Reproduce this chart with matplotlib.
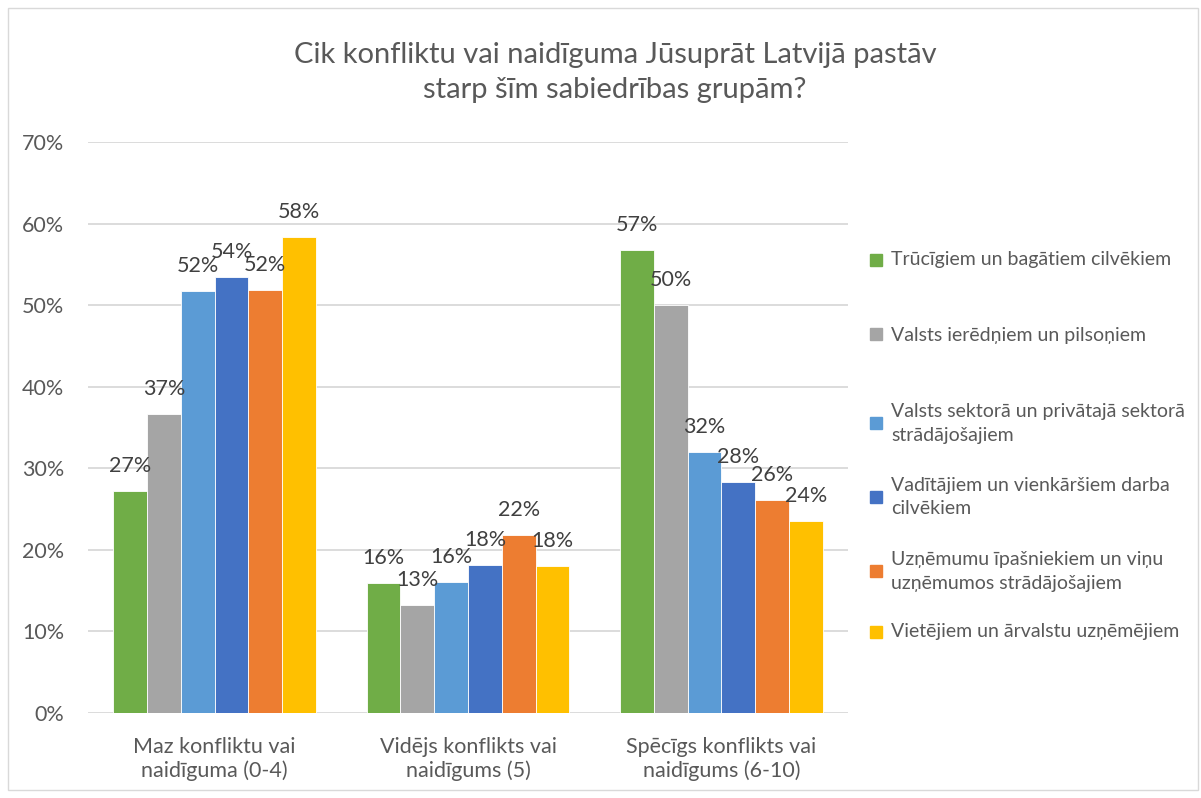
import matplotlib.pyplot as plt
import numpy as np
from matplotlib.patches import Rectangle

plt.rcParams['font.family'] = ['Lato', 'DejaVu Sans']

# ── data ──
CATEGORIES = ['Maz konfliktu vai\nnaidīguma (0-4)',
              'Vidējs konflikts vai\nnaidīgums (5)',
              'Spēcīgs konflikts vai\nnaidīgums (6-10)']
SERIES = ['Trūcīgiem un bagātiem cilvēkiem',
          'Valsts ierēdņiem un pilsoņiem',
          'Valsts sektorā un privātajā sektorā\nstrādājošajiem',
          'Vadītājiem un vienkāršiem darba\ncilvēkiem',
          'Uzņēmumu īpašniekiem un viņu\nuzņēmumos strādājošajiem',
          'Vietējiem un ārvalstu uzņēmējiem']
COLORS = ['#70ad47', '#a5a5a5', '#5b9bd5', '#4472c4', '#ed7d31', '#ffc000']

trucigiem = [27.2, 15.9, 56.8]
ieredniem = [36.7, 13.2, 50.0]
sektora = [51.7, 16.1, 32.0]
vaditajiem = [53.5, 18.1, 28.3]
ipasniekiem = [51.9, 21.8, 26.1]
vietejiem = [58.3, 18.0, 23.5]
VALUES = [trucigiem, ieredniem, sektora, vaditajiem, ipasniekiem, vietejiem]

TXT = '#595959'
fig = plt.figure(figsize=(12.01, 7.98), dpi=100)
ax = fig.add_axes([0.0733, 0.1065, 0.6328, 0.7155])

x = np.arange(len(CATEGORIES))
n = len(SERIES)
group_w = 0.8
bw = group_w / n
for i, (vals, col) in enumerate(zip(VALUES, COLORS)):
    xs = x - group_w / 2 + bw * (i + 0.5)
    bars = ax.bar(xs, vals, width=bw, color=col, edgecolor='white', linewidth=0.6, zorder=3)
    for b, v in zip(bars, vals):
        ax.annotate(f'{round(v):.0f}%', (b.get_x() + b.get_width() / 2, v),
                    xytext=(0, 18), textcoords='offset points',
                    ha='center', va='center', fontsize=15.5, color='#404040', zorder=4)

ax.set_xlim(-0.5, 2.5)
ax.set_ylim(0, 70)
ax.set_yticks(np.arange(0, 71, 10))
ax.set_yticklabels([f'{t}%' for t in range(0, 71, 10)], fontsize=15.5, color=TXT)
ax.set_xticks(x)
ax.set_xticklabels(CATEGORIES, fontsize=15.5, color=TXT, linespacing=1.2)
ax.tick_params(axis='both', length=0)
ax.tick_params(axis='y', pad=17)
ax.tick_params(axis='x', pad=17)
ax.grid(axis='y', color='#d9d9d9', linewidth=1.3, zorder=0)
for s in ax.spines.values():
    s.set_visible(False)

fig.text(0.512, 0.909, 'Cik konfliktu vai naidīguma Jūsuprāt Latvijā pastāv\nstarp šīm sabiedrības grupām?',
         ha='center', va='center', fontsize=21, color=TXT, linespacing=1.42)

# legend, placed like the Excel one
leg_y = [260, 335, 423, 497, 571, 632]
for lab, col, yy in zip(SERIES, COLORS, leg_y):
    yf = 1 - yy / 798
    fig.patches.append(Rectangle((870 / 1201, yf - 5.5 / 798), 12 / 1201, 12 / 798,
                                 transform=fig.transFigure, color=col))
    fig.text(891 / 1201, yf, lab, ha='left', va='center', fontsize=14, color=TXT,
             linespacing=1.5)

# chart border
fig.patches.append(Rectangle((8 / 1201, 8 / 798), 1190 / 1201, 782 / 798, transform=fig.transFigure,
                             fill=False, edgecolor='#d9d9d9', linewidth=1))

plt.savefig('out.png', dpi=100)
